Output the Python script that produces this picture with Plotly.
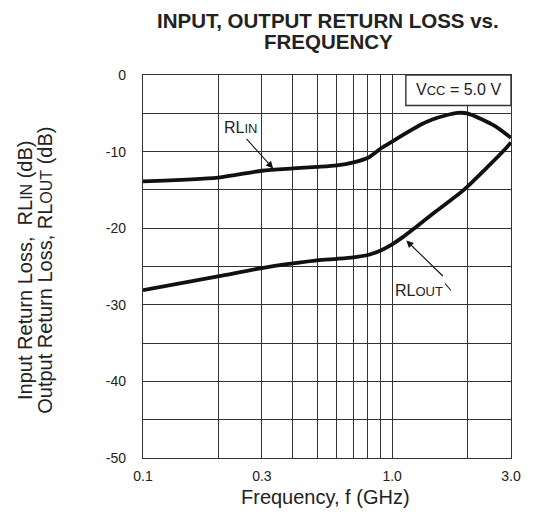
import numpy as np
import plotly.graph_objects as go

# ---- data ----
freq_in = [0.1, 0.2, 0.3, 0.4, 0.5, 0.6, 0.7, 0.8, 0.9, 1.0, 1.15, 1.3, 1.45, 1.65, 1.83, 2.0, 2.3, 2.6, 3.0]
rl_in = [-13.9, -13.4, -12.5, -12.2, -12.0, -11.8, -11.4, -10.8, -9.6, -8.7, -7.5, -6.5, -5.8, -5.25, -4.95, -5.0, -5.8, -6.7, -8.2]

freq_out = [0.1, 0.2, 0.3, 0.4, 0.5, 0.6, 0.7, 0.8, 0.9, 1.0, 1.1, 1.23, 1.5, 1.94, 2.4, 2.82, 3.0]
rl_out = [-28.1, -26.3, -25.2, -24.6, -24.2, -24.0, -23.8, -23.5, -22.9, -22.1, -21.2, -20.0, -17.8, -15.0, -12.1, -9.8, -8.8]

x_tick_vals = [0.1, 0.3, 1.0, 3.0]
x_tick_text = ["0.1", "0.3", "1.0", "3.0"]
x_minor_vals = [0.2, 0.4, 0.5, 0.6, 0.7, 0.8, 0.9, 2.0]
y_tick_vals = [0, -10, -20, -30, -40, -50]
y_tick_text = ["0", "-10", "-20", "-30", "-40", "-50"]
y_minor_vals = [-5, -15, -25, -35, -45]

FONT = "Liberation Sans, Arial, sans-serif"
GRID = "#333333"
INK = "#111111"
TXT = "#222222"

# page body has an 8px margin; size the figure so the plot lands where the reference has it
PAGE_OFF = 8
PL, PR, PT, PB = 143, 514, 75, 458  # plot box in page pixels

fig = go.Figure()
fig.add_trace(go.Scatter(x=freq_in, y=rl_in, mode="lines",
                         line=dict(color=INK, width=3.8, shape="spline", smoothing=0.7),
                         showlegend=False, hoverinfo="skip"))
fig.add_trace(go.Scatter(x=freq_out, y=rl_out, mode="lines",
                         line=dict(color=INK, width=3.8, shape="spline", smoothing=0.7),
                         showlegend=False, hoverinfo="skip"))

fig.update_layout(
    width=533 - PAGE_OFF, height=527 - PAGE_OFF,
    margin=dict(l=PL - PAGE_OFF, r=533 - PR, t=PT - PAGE_OFF, b=527 - PB),
    paper_bgcolor="white", plot_bgcolor="white",
    font=dict(family=FONT, color=TXT),
)

fig.update_xaxes(
    type="log", range=[np.log10(0.1), np.log10(3.0)],
    tickmode="array", tickvals=x_tick_vals, ticktext=x_tick_text,
    tickfont=dict(size=14, color=TXT),
    ticks="", ticklabelstandoff=5,
    showgrid=True, gridcolor=GRID, gridwidth=1.2,
    minor=dict(tickmode="array", tickvals=x_minor_vals, showgrid=True,
               gridcolor=GRID, gridwidth=1.2, ticks=""),
    showline=True, mirror=True, linecolor=GRID, linewidth=1.4,
    zeroline=False,
)
fig.update_yaxes(
    range=[-50, 0],
    tickmode="array", tickvals=y_tick_vals, ticktext=y_tick_text,
    tickfont=dict(size=14, color=TXT),
    ticks="", ticklabelstandoff=13,
    showgrid=True, gridcolor=GRID, gridwidth=1.2,
    minor=dict(tickmode="array", tickvals=y_minor_vals, showgrid=True,
               gridcolor=GRID, gridwidth=1.2, ticks=""),
    showline=True, mirror=True, linecolor=GRID, linewidth=1.4,
    zeroline=False,
)

W = PR - PL
H = PB - PT


def px_x(p):
    return (p - PL) / W


def px_y(p):
    return 1 - (p - PT) / H


# Vcc box
fig.add_shape(type="rect", xref="paper", yref="paper",
              x0=px_x(408), x1=1.0, y0=px_y(105.5), y1=1.0,
              line=dict(color=GRID, width=1.4), fillcolor="white", layer="above")

small = "font-size:13px"
ann = []
# titles
ann.append(dict(text="<b>INPUT, OUTPUT RETURN LOSS vs.</b>", xref="paper", yref="paper",
                x=px_x(330), y=px_y(21), xanchor="center", yanchor="middle", showarrow=False,
                font=dict(size=20.5, color=TXT, family=FONT)))
ann.append(dict(text="<b>FREQUENCY</b>", xref="paper", yref="paper",
                x=px_x(330), y=px_y(42), xanchor="center", yanchor="middle", showarrow=False,
                font=dict(size=20.5, color=TXT, family=FONT)))
# axis titles
ann.append(dict(text="Frequency, f (GHz)", xref="paper", yref="paper",
                x=px_x(327), y=px_y(497), xanchor="center", yanchor="middle", showarrow=False,
                font=dict(size=20, color=TXT, family=FONT)))
ann.append(dict(text="Input Return Loss,  RL<span style='font-size:16px'>IN</span> (dB)",
                xref="paper", yref="paper", x=px_x(24), y=px_y(270),
                xanchor="center", yanchor="middle", textangle=-90, showarrow=False,
                font=dict(size=20, color=TXT, family=FONT)))
ann.append(dict(text="Output Return Loss, RL<span style='font-size:16px'>OUT</span> (dB)",
                xref="paper", yref="paper", x=px_x(44), y=px_y(270),
                xanchor="center", yanchor="middle", textangle=-90, showarrow=False,
                font=dict(size=20, color=TXT, family=FONT)))
# Vcc label
ann.append(dict(text="V<span style='%s'>CC</span> = 5.0 V" % small, xref="paper", yref="paper",
                x=px_x(461), y=px_y(90), xanchor="center", yanchor="middle", showarrow=False,
                font=dict(size=16, color=TXT, family=FONT)))
# curve labels
ann.append(dict(text="RL<span style='%s'>IN</span>" % small, x=np.log10(0.247), y=-6.85,
                xanchor="center", yanchor="middle", showarrow=False,
                font=dict(size=16, color=TXT, family=FONT)))
ann.append(dict(text="", x=np.log10(0.333), y=-12.2, ax=-28, ay=-31,
                showarrow=True, arrowhead=2, arrowsize=1.3, arrowwidth=1.1, arrowcolor=INK))
ann.append(dict(text="RL<span style='%s'>OUT</span>" % small, x=np.log10(1.28), y=-28.1,
                xanchor="center", yanchor="middle", showarrow=False,
                font=dict(size=16, color=TXT, family=FONT)))
ann.append(dict(text="", x=np.log10(1.14), y=-21.6, ax=38, ay=37,
                showarrow=True, arrowhead=2, arrowsize=1.3, arrowwidth=1.1, arrowcolor=INK))
fig.update_layout(annotations=ann)

# small tail segment beyond the RLout label
fig.add_shape(type="line", xref="paper", yref="paper",
              x0=px_x(447.5), y0=px_y(283.5), x1=px_x(453.5), y1=px_y(290.5),
              line=dict(color=INK, width=1.1))

fig.write_html("out.html")
